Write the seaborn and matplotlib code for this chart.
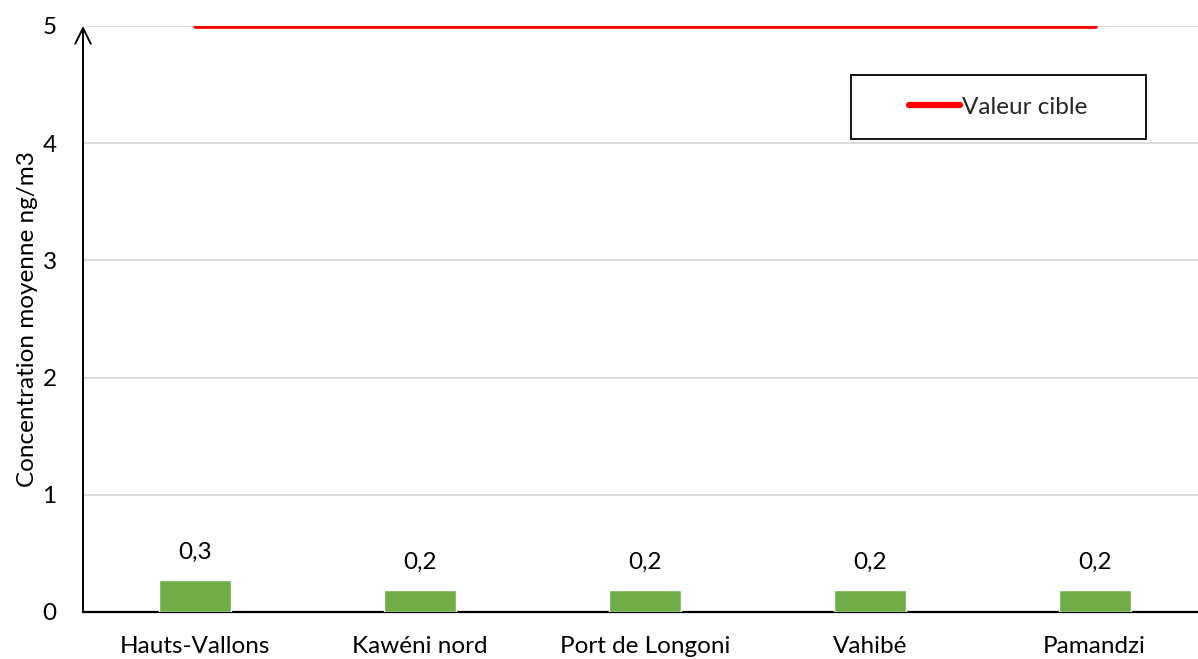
import matplotlib
matplotlib.use("Agg")
import matplotlib.pyplot as plt
import seaborn as sns
import pandas as pd
from matplotlib.patches import Rectangle

sites = ["Hauts-Vallons", "Kawéni nord", "Port de Longoni", "Vahibé", "Pamandzi"]
concentration = [0.27, 0.19, 0.19, 0.19, 0.19]
target_value = [5, 5, 5, 5, 5]
yticks = [0, 1, 2, 3, 4, 5]

sns.set_theme(style="white")
plt.rcParams["font.family"] = ["Lato", "DejaVu Sans"]

FS = 17.5

df = pd.DataFrame({"site": sites, "conc": concentration, "target": target_value})

fig = plt.figure(figsize=(11.98, 6.59), dpi=100)
ax = fig.add_axes([83 / 1198, 1 - 612 / 659, (1207 - 83) / 1198, (612 - 26) / 659])

sns.barplot(data=df, x="site", y="conc", color="#70ad47", width=0.32,
            saturation=1, ax=ax, zorder=3)
sns.lineplot(x=list(range(len(sites))), y=df["target"], color="#ff0000",
             linewidth=3.4, ax=ax, label="Valeur cible", zorder=4)

for i, v in enumerate(concentration):
    ax.text(i, v + 0.235, f"{v:.1f}".replace(".", ","), ha="center", va="center",
            fontsize=FS, color="#000000")

ax.set_xlim(-0.5, 4.5)
ax.set_ylim(0, 5)
ax.set_yticks(yticks)
ax.set_yticklabels([str(t) for t in yticks])
ax.yaxis.grid(True, color="#d9d9d9", linewidth=1.3, zorder=0)
ax.set_axisbelow(True)
ax.tick_params(axis="both", length=0, labelsize=FS, colors="#000000")
ax.tick_params(axis="x", pad=17)
ax.tick_params(axis="y", pad=19)
ax.set_xlabel("")
ax.set_ylabel("Concentration moyenne ng/m3", fontsize=FS, color="#000000", labelpad=3.5)

for side in ["top", "right", "left"]:
    ax.spines[side].set_visible(False)
ax.spines["bottom"].set_color("#000000")
ax.spines["bottom"].set_linewidth(1.6)

# y axis drawn as an arrow
ax.annotate("", xy=(-0.5, 5), xytext=(-0.5, 0), xycoords="data",
            arrowprops=dict(arrowstyle="->", color="#000000", lw=1.4,
                            mutation_scale=28, shrinkA=0, shrinkB=0),
            annotation_clip=False)

# legend frame and entry
x0, x1, y0, y1 = 851, 1146, 75, 139
ax.add_patch(Rectangle((x0 / 1198, 1 - y1 / 659), (x1 - x0) / 1198, (y1 - y0) / 659,
                       transform=fig.transFigure, facecolor="white", clip_on=False,
                       edgecolor="#000000", linewidth=1.3, zorder=10))
leg = ax.legend(loc="center left", bbox_to_anchor=((909 - 83) / 1124, 1 - (107 - 26) / 586),
                frameon=False, fontsize=FS, handlelength=2.1,
                handletextpad=0.1, borderpad=0, borderaxespad=0)
leg.set_zorder(11)
for line in leg.get_lines():
    line.set_linewidth(4.5)

fig.savefig("out.png", dpi=100)
